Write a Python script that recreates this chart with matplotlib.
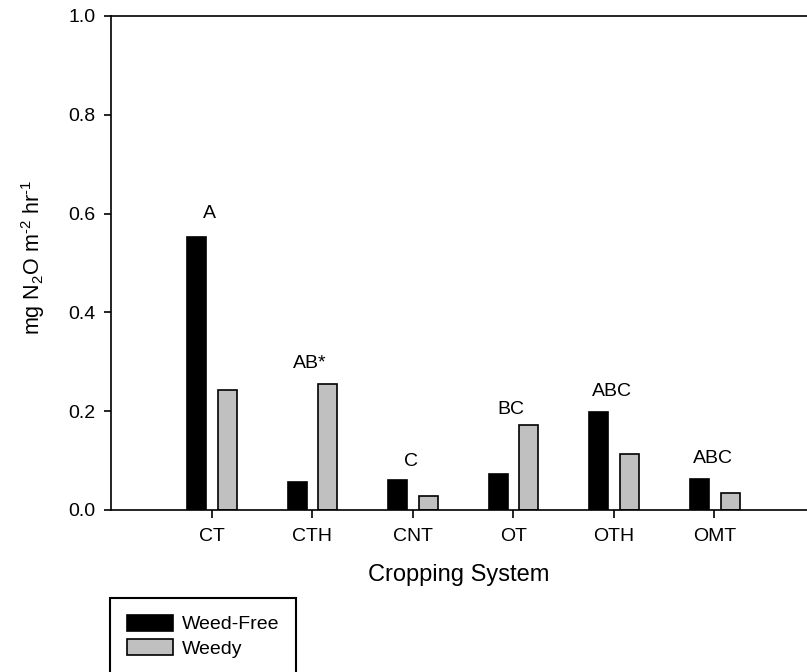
import matplotlib
matplotlib.use('Agg')
import matplotlib.pyplot as plt
import numpy as np

# ------------------------------------------------------------------ #
#            N2O flux by cropping system, weed-free vs weedy         #
# ------------------------------------------------------------------ #

systems = ['CT', 'CTH', 'CNT', 'OT', 'OTH', 'OMT']
weed_free = [0.553, 0.056, 0.061, 0.072, 0.199, 0.063]
weedy = [0.242, 0.255, 0.028, 0.173, 0.114, 0.034]
letters = ['A', 'AB*', 'C', 'BC', 'ABC', 'ABC']
letter_y = [0.601, 0.296, 0.099, 0.204, 0.239, 0.105]

plt.rcParams['font.family'] = ['Liberation Sans', 'DejaVu Sans']
plt.rcParams['mathtext.fontset'] = 'custom'
plt.rcParams['mathtext.rm'] = 'Liberation Sans'
plt.rcParams['mathtext.it'] = 'Liberation Sans'
plt.rcParams['mathtext.default'] = 'regular'

fig = plt.figure(figsize=(8.07, 6.72), dpi=100)
ax = fig.add_axes([111/807, 1-510/672, 1-111/807, (510-16)/672])

x = np.arange(len(systems))
w = 0.19
ax.bar(x - 0.15, weed_free, w, color='black', edgecolor='black', lw=1.2, label='Weed-Free')
ax.bar(x + 0.155, weedy, w, color='#c0c0c0', edgecolor='black', lw=1.2, label='Weedy')

for xi, txt, yy in zip(x, letters, letter_y):
    ax.text(xi - 0.02, yy, txt, ha='center', va='center', fontsize=14)

ax.set_xlim(-1, 5.92)
ax.set_ylim(0, 1.0)
ax.set_yticks([0.0, 0.2, 0.4, 0.6, 0.8, 1.0])
ax.set_yticklabels(['0.0', '0.2', '0.4', '0.6', '0.8', '1.0'])
ax.set_xticks(x)
ax.set_xticklabels(systems)

ax.spines['right'].set_visible(False)
for s in ['left', 'bottom', 'top']:
    ax.spines[s].set_linewidth(1.2)
ax.tick_params(axis='y', direction='out', length=5, width=1.2, pad=6, labelsize=14)
ax.tick_params(axis='x', direction='out', length=6, width=1.2, pad=7, labelsize=14)

ax.set_xlabel('Cropping System', fontsize=17, labelpad=14)
ax.set_ylabel(r'mg N$_2$O m$^{\text{-}2}$ hr$^{\text{-}1}$', fontsize=15.5)
ax.yaxis.set_label_coords(-0.092, 0.511)

leg = fig.legend(loc='upper left', bbox_to_anchor=(110/807, 1-598/672),
                 bbox_transform=fig.transFigure, fontsize=14, fancybox=False,
                 edgecolor='black', framealpha=1, borderpad=0.85,
                 handlelength=2.4, handleheight=0.9, handletextpad=0.45,
                 labelspacing=0.3, borderaxespad=0)
leg.get_frame().set_linewidth(1.5)

plt.savefig('out.png', dpi=100)
plt.close()
